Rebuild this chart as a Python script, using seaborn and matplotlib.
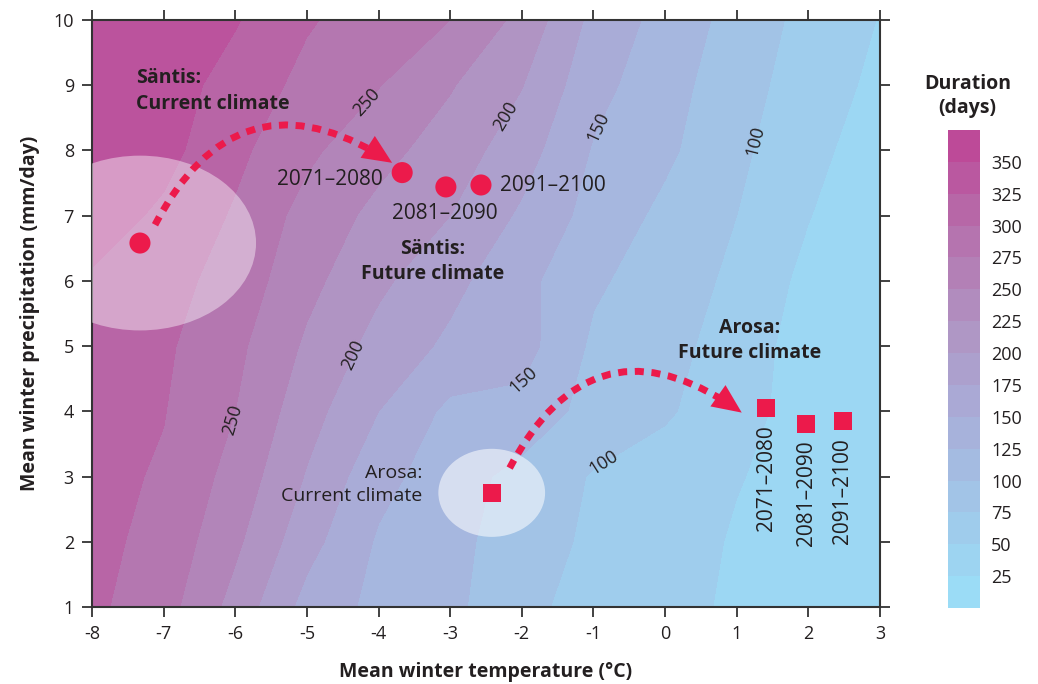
import numpy as np
import pandas as pd
import matplotlib
matplotlib.use("Agg")
import matplotlib.pyplot as plt
import seaborn as sns
from matplotlib.colors import LinearSegmentedColormap, BoundaryNorm
from matplotlib.cm import ScalarMappable
from matplotlib.patches import Ellipse

# Grid of snow cover duration (days)
temps = [-8, -7, -6, -5, -4, -3, -2, -1, 0, 1, 2, 3]
precips = [1, 2, 3, 4, 5, 6, 7, 8, 9, 10]
duration = [
    [280, 260, 216, 166, 143, 131, 106, 91, 81, 72, 65, 59],
    [282, 267, 230, 184, 147, 132, 112.5, 95, 84, 73, 66, 60],
    [283, 272, 241, 198, 158, 136, 117, 98, 87, 76, 68, 60],
    [285, 276, 250, 210, 175, 144, 142, 115.5, 103.6, 82.5, 66, 58],
    [288, 279, 256, 221, 191, 170, 160, 120.5, 108, 89, 63, 56],
    [297, 284, 265, 232, 205, 182, 157.5, 129, 112, 95, 68, 57],
    [312, 295.5, 272, 241, 218, 200, 171, 141, 119, 100, 76, 55],
    [314, 308, 281, 255, 233, 213.5, 186, 148, 130, 105, 83, 61],
    [318, 312, 290, 268, 251, 227, 201, 158, 135, 110, 88, 69],
    [319, 310, 302, 277.5, 263, 250, 218, 168, 141, 116, 92, 74],
]
map_levels = list(range(50, 350, 25))
bar_levels = list(range(0, 400, 25))
label_levels = [100, 150, 200, 250]

# Stations
periods = ["2071\u20132080", "2081\u20132090", "2091\u20132100"]
santis_now = (-7.33, 6.58)
santis_temp = [-3.67, -3.06, -2.57]
santis_prec = [7.66, 7.44, 7.47]
arosa_now = (-2.42, 2.75)
arosa_temp = [1.41, 1.97, 2.48]
arosa_prec = [4.05, 3.81, 3.85]

red = "#ec1a4b"
txt = "#231f20"

sns.set_theme(style="ticks")
plt.rcParams["font.family"] = ["Open Sans", "DejaVu Sans"]
plt.rcParams["axes.unicode_minus"] = False

cmap = LinearSegmentedColormap.from_list(
    "dur",
    [(0.0, "#9bdcf6"), (0.2, "#a1c6e8"), (0.4, "#a9add8"),
     (0.6, "#b093c2"), (0.8, "#b572ad"), (1.0, "#bd4a98")])

fig = plt.figure(figsize=(10.38, 6.84), dpi=100)
ax = fig.add_axes([0.0886, 0.1126, 0.7592, 0.8582])
cax = fig.add_axes([0.9133, 0.111, 0.0308, 0.699])

ax.contourf(temps, precips, duration, levels=map_levels, cmap=cmap)
lines = ax.contour(temps, precips, duration, levels=label_levels,
                   colors="none")
ax.clabel(lines, fmt="%d", fontsize=13, colors=txt, inline=True,
          manual=[(-0.96, 3.41), (1.21, 8.16), (-1.98, 4.48), (-0.98, 8.39),
                  (-4.43, 4.91), (-2.03, 8.39), (-6.05, 3.87), (-4.12, 8.70)])

# current-climate clouds
ax.add_patch(Ellipse(santis_now, 3.24, 2.68, fc="white", ec="none", alpha=0.42, zorder=3))
ax.add_patch(Ellipse(arosa_now, 1.49, 1.35, fc="white", ec="none", alpha=0.55, zorder=3))

# dashed arrows
for start, end, rad in [((-7.12, 6.86), (-3.81, 7.81), -0.55),
                        ((-2.17, 3.13), (1.07, 3.98), -0.57)]:
    ax.annotate("", xy=end, xytext=start, zorder=4,
                arrowprops=dict(arrowstyle="-", color=red, lw=5,
                                linestyle=(0, (1.3, 1.1)), capstyle="butt",
                                connectionstyle=f"arc3,rad={rad}",
                                shrinkA=0, shrinkB=14))
    ax.annotate("", xy=end, xytext=start, zorder=4,
                arrowprops=dict(arrowstyle="-|>,head_length=1.05,head_width=0.47",
                                color=red, lw=0, mutation_scale=20,
                                connectionstyle=f"arc3,rad={rad}",
                                shrinkA=0, shrinkB=0))

sns.scatterplot(x=[santis_now[0]] + santis_temp, y=[santis_now[1]] + santis_prec,
                marker="o", s=230, color=red, edgecolor="none", ax=ax, zorder=5)
sns.scatterplot(x=[arosa_now[0]] + arosa_temp, y=[arosa_now[1]] + arosa_prec,
                marker="s", s=170, color=red, edgecolor="none", ax=ax, zorder=5)

# text annotations
ax.text(-7.39, 8.91, "S\u00e4ntis:\nCurrent climate", fontsize=14, fontweight="bold",
        color=txt, va="center", ha="left", linespacing=1.35)
ax.text(-3.25, 6.30, "S\u00e4ntis:\nFuture climate", fontsize=14, fontweight="bold",
        color=txt, va="center", ha="center", linespacing=1.35)
ax.text(1.18, 5.09, "Arosa:\nFuture climate", fontsize=14, fontweight="bold",
        color=txt, va="center", ha="center", linespacing=1.35)
ax.text(-3.39, 2.88, "Arosa:\nCurrent climate", fontsize=14, color=txt,
        va="center", ha="right", linespacing=1.35)
ax.text(-3.94, 7.55, periods[0], fontsize=15, color=txt, ha="right", va="center")
ax.text(-3.07, 7.03, periods[1], fontsize=15, color=txt, ha="center", va="center")
ax.text(-2.30, 7.46, periods[2], fontsize=15, color=txt, ha="left", va="center")
for t, p, lab in zip(arosa_temp, arosa_prec, periods):
    ax.text(t, p - 0.26, lab, fontsize=15, color=txt, rotation=90,
            ha="center", va="top")

ax.set_xlim(-8, 3)
ax.set_ylim(1, 10)
ax.set_xticks(temps)
ax.set_yticks(precips)
ax.set_xlabel("Mean winter temperature (\u00b0C)", fontsize=14, fontweight="bold",
              color=txt, labelpad=14)
ax.set_ylabel("Mean winter precipitation (mm/day)", fontsize=14, fontweight="bold",
              color=txt, labelpad=10)
ax.tick_params(direction="out", length=7, width=1.3, colors="#333333",
               labelsize=13, labelcolor=txt, top=True, right=True, pad=6)
for s in ax.spines.values():
    s.set_linewidth(1.5)
    s.set_color("#333333")

bar_cmap = cmap.resampled(len(bar_levels) - 1)
sm = ScalarMappable(norm=BoundaryNorm(bar_levels, bar_cmap.N), cmap=bar_cmap)
cb = fig.colorbar(sm, cax=cax, ticks=bar_levels[1:-1])
cb.minorticks_off()
cb.outline.set_visible(False)
cax.tick_params(which="both", length=0, labelsize=13, labelcolor=txt, pad=8)
fig.text(0.932, 0.86, "Duration\n(days)", fontsize=14, fontweight="bold",
         color=txt, ha="center", va="center", linespacing=1.3)

fig.savefig("out.png", dpi=100)
